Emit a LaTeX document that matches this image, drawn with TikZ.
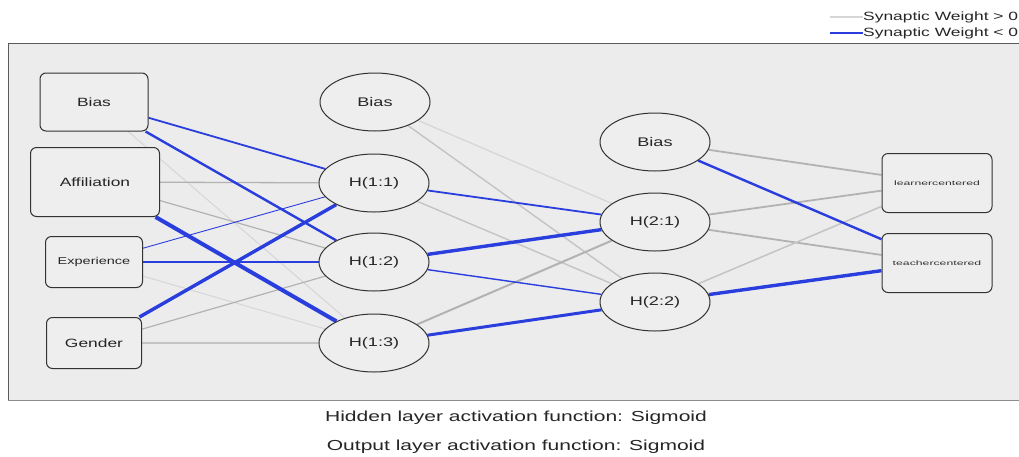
\documentclass[tikz,border=0pt]{standalone}
\usepackage{fontspec}
\setmainfont{Liberation Sans}[FakeStretch=1.45]
\usetikzlibrary{shapes.geometric}
\pgfdeclarelayer{panel}
\pgfdeclarelayer{wires}
\pgfsetlayers{panel,wires,main}
\definecolor{panelbg}{RGB}{236,236,236}
\definecolor{nodebg}{RGB}{238,238,238}
\definecolor{edgedark}{RGB}{50,50,50}
\definecolor{neg}{RGB}{42,62,222}
\definecolor{posA}{RGB}{178,178,178}
\definecolor{posB}{RGB}{196,196,196}
\definecolor{posC}{RGB}{214,214,214}
\tikzset{
  inbox/.style={draw=edgedark, line width=1pt, rounded corners=6pt, fill=nodebg, inner sep=0pt,
    font=\fontsize{12}{14}\selectfont, text=black!85},
  neuron/.style={draw=edgedark, line width=1pt, ellipse, fill=nodebg, minimum width=110pt,
    minimum height=58pt, inner sep=0pt, font=\fontsize{12.5}{14}\selectfont, text=black!85},
  outbox/.style={draw=edgedark, line width=1pt, rounded corners=6pt, fill=nodebg, inner sep=0pt,
    minimum width=110pt, minimum height=59pt, font=\fontsize{6.5}{8}\selectfont, text=black!80},
  wneg/.style={draw=neg, line width=#1},
  wpos/.style={draw=posA, line width=#1},
  wposb/.style={draw=posB, line width=#1},
  wposc/.style={draw=posC, line width=#1},
  caption/.style={font=\fontsize{14.5}{16}\selectfont, text=black!85},
  legend/.style={font=\fontsize{12}{14}\selectfont, text=black!85, anchor=west, inner sep=0pt}
}
\begin{document}
\begin{tikzpicture}[x=1pt,y=-1pt]
\useasboundingbox (0,0) rectangle (1019,456);
% panel
\begin{pgfonlayer}{panel}
  \fill[white] (0,0) rectangle (1019,456);
  \fill[panelbg] (8,43) rectangle (1019,400);
  \draw[edgedark!80, line width=1pt] (1019,43) -- (8,43) -- (8,400);
  \draw[black!45, line width=1pt] (8,400) -- (1019,400);
\end{pgfonlayer}
% legend
\coordinate (lgA) at (830,17);
\coordinate (lgB) at (830,33);
\node[legend] (lgtA) at (863,17) {Synaptic Weight > 0};
\node[legend] (lgtB) at (863,33) {Synaptic Weight < 0};
\draw[posC, line width=1.2pt] (lgA) -- (lgtA.west);
\draw[neg, line width=1.2pt] (lgB) -- (lgtB.west);
% input layer
\node[inbox, minimum width=108pt, minimum height=58pt] (ib) at (94,102) {Bias};
\node[inbox, minimum width=129pt, minimum height=69pt] (af) at (95,182) {Affiliation};
\node[inbox, minimum width=97pt, minimum height=51pt, font=\fontsize{10}{12}\selectfont] (ex) at (94,262) {Experience};
\node[inbox, minimum width=95pt, minimum height=51pt] (ge) at (94,343) {Gender};
% hidden layer 1
\node[neuron] (hb1) at (375,102) {Bias};
\node[neuron] (h11) at (374,183) {H(1:1)};
\node[neuron] (h12) at (374,262) {H(1:2)};
\node[neuron] (h13) at (374,343) {H(1:3)};
% hidden layer 2
\node[neuron] (hb2) at (655,142) {Bias};
\node[neuron] (h21) at (655,222) {H(2:1)};
\node[neuron] (h22) at (655,302) {H(2:2)};
% output layer
\node[outbox] (lc) at (937,183) {\scalebox{1.3}[1]{learnercentered}};
\node[outbox] (tc) at (937,263) {\scalebox{1.3}[1]{teachercentered}};
% connections
\begin{pgfonlayer}{wires}
  % input -> hidden 1
  \draw[wposc=1pt] (ib) -- (h13);
  \draw[wposc=1pt] (ex) -- (h13);
  \draw[wposb=1.2pt] (ge) -- (h13);
  \draw[wpos=1.3pt] (af) -- (h11);
  \draw[wpos=1.2pt] (af) -- (h12);
  \draw[wpos=1.2pt] (ge) -- (h12);
  \draw[wneg=1.8pt] (ib) -- (h11);
  \draw[wneg=2.4pt] (ib) -- (h12);
  \draw[wneg=4pt] (af) -- (h13);
  \draw[wneg=0.9pt] (ex) -- (h11);
  \draw[wneg=1.8pt] (ex) -- (h12);
  \draw[wneg=3.4pt] (ge) -- (h11);
  % hidden 1 -> hidden 2
  \draw[wposc=1.3pt] (hb1) -- (h21);
  \draw[wposb=1.4pt] (hb1) -- (h22);
  \draw[wposb=1.4pt] (h11) -- (h22);
  \draw[wpos=2pt] (h13) -- (h21);
  \draw[wneg=1.8pt] (h11) -- (h21);
  \draw[wneg=3.4pt] (h12) -- (h21);
  \draw[wneg=1.4pt] (h12) -- (h22);
  \draw[wneg=3pt] (h13) -- (h22);
  % hidden 2 -> output
  \draw[wpos=1.8pt] (hb2) -- (lc);
  \draw[wpos=1.8pt] (h21) -- (lc);
  \draw[wpos=1.8pt] (h21) -- (tc);
  \draw[wposb=1.5pt] (h22) -- (lc);
  \draw[wneg=2.4pt] (hb2) -- (tc);
  \draw[wneg=3.4pt] (h22) -- (tc);
\end{pgfonlayer}
% captions
\node[caption] (cap1) at (516,418) {Hidden layer activation function: Sigmoid};
\node[caption] (cap2) at (516,447) {Output layer activation function: Sigmoid};
\end{tikzpicture}
\end{document}
